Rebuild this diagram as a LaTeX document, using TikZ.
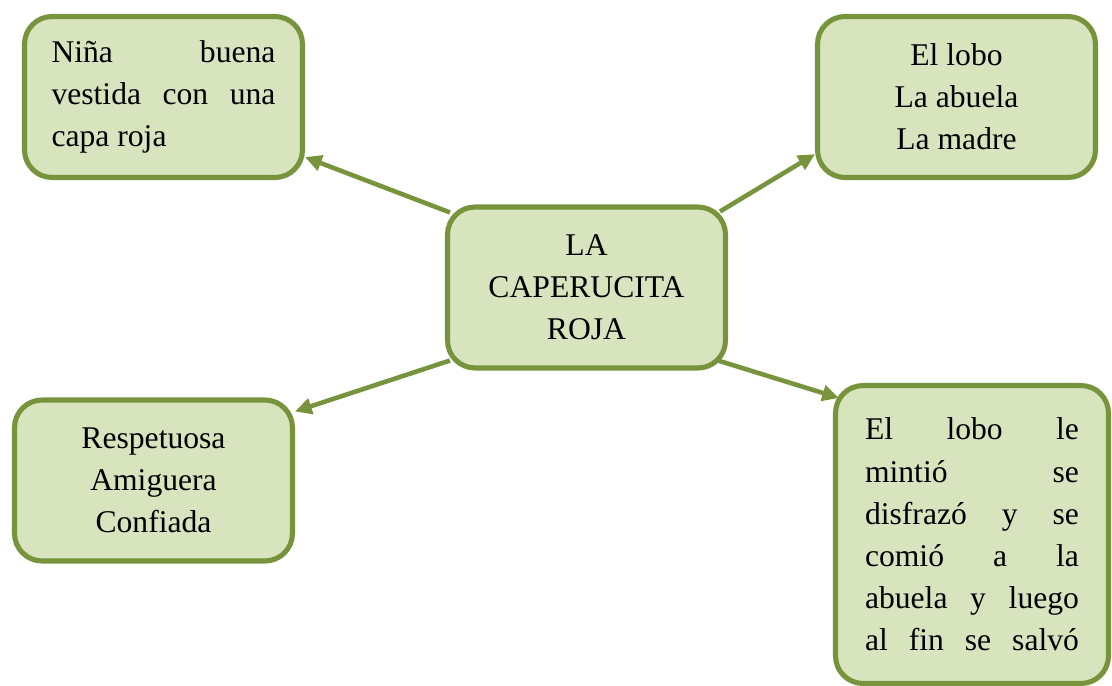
\documentclass[tikz,border=0pt]{standalone}
\usepackage{fontspec}
\setmainfont{Liberation Serif}
\usetikzlibrary{arrows.meta}

\definecolor{borde}{HTML}{77933C}
\definecolor{fondo}{HTML}{D7E4BD}

\begin{document}
\begin{tikzpicture}[x=0.02cm, y=-0.02cm, line width=2.9pt,
    box/.style={draw=borde, fill=fondo, rounded corners=0.55cm, inner sep=0pt,
        minimum width=5.56cm, minimum height=3.22cm,
        font=\fontsize{18pt}{24pt}\selectfont},
    flecha/.style={draw=borde, line width=2.6pt, -{Triangle[length=9.5pt, width=9pt]}}]
\useasboundingbox (0,0) rectangle (1112,686);

\node[box, align=center] (cap) at (586.5,287.5) {LA\\CAPERUCITA\\ROJA};

\node[box, text width=4.48cm, align=justify] (nina) at (163.5,97)
    {Niña buena\linebreak vestida con una\linebreak capa roja};
\node[box, align=center] (pers) at (956.5,97) {El lobo\\La abuela\\La madre};
\node[box, align=center] (cual) at (153.5,480.5) {Respetuosa\\Amiguera\\Confiada};
\node[box, text width=4.28cm, minimum width=5.46cm, minimum height=5.96cm, align=justify] (hist) at (972,534.5)
    {El lobo le\linebreak mintió se\linebreak disfrazó y se\linebreak
     comió a la\linebreak abuela y luego\linebreak
     \hbox to\hsize{al\hfill fin\hfill se\hfill salvó}};

%\draw (cap) -- (nina);
\draw[flecha] ([shift={(5,8)}]cap.north west) -- (nina.-23);
\draw[flecha] ([shift={(-8,7)}]cap.north east) -- (pers.202);
\draw[flecha] ([shift={(5,-10)}]cap.south west) -- (cual.26);
\draw[flecha] ([shift={(-10,-10)}]cap.south east) -- ([shift={(6,15)}]hist.north west);
\end{tikzpicture}
\end{document}
